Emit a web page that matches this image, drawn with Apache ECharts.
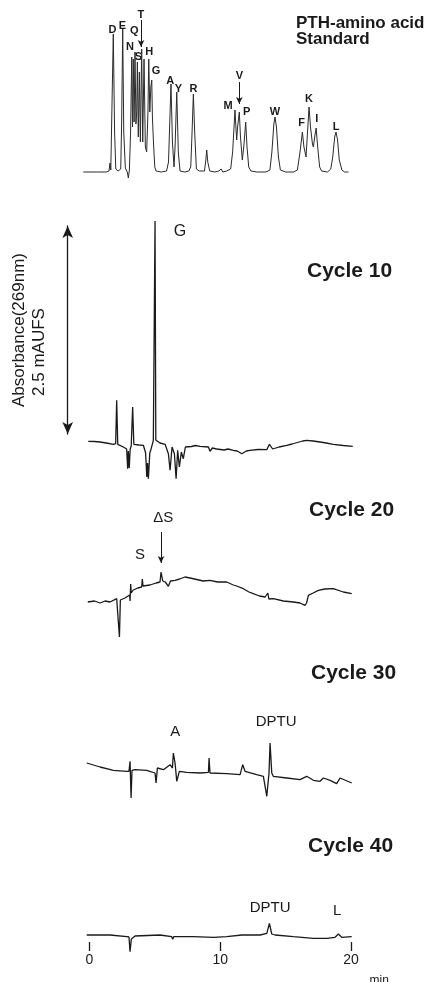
<!DOCTYPE html>
<html>
<head>
<meta charset="utf-8">
<script src="https://cdn.jsdelivr.net/npm/echarts@6/dist/echarts.min.js"></script>
<style>
  html, body { margin: 0; padding: 0; background: #fff; }
  #chart { width: 435px; height: 982px; }
</style>
</head>
<body>
<div id="chart"></div>
<script>
const INK = "#1a1a1a";
const FONT = '"Liberation Sans", Arial, Helvetica, sans-serif';

// retention time (min), relative absorbance
const standardTrace = [
  [-0.46, 0], [0.6, 0], [1.3, 0], [1.5, 1], [1.58, 9], [1.64, 2], [1.72, 4], [1.83, 138], [1.93, 40],
  [2.02, 3], [2.2, 1], [2.4, 3], [2.47, 50], [2.55, 143], [2.63, 40], [2.75, 4], [2.9, 0], [2.98, -6],
  [3.06, 2], [3.15, 40], [3.24, 115], [3.3, 45], [3.36, 113], [3.42, 50], [3.49, 120], [3.56, 48],
  [3.62, 60], [3.67, 110], [3.74, 35], [3.82, 100], [3.9, 30], [4.0, 123], [4.08, 30], [4.18, 113],
  [4.28, 25], [4.38, 20], [4.48, 60], [4.54, 113], [4.62, 60], [4.7, 85], [4.77, 92], [4.82, 55],
  [4.9, 30], [5.0, 5], [5.1, 1], [5.5, 0], [5.9, 1], [6.05, 10], [6.24, 88], [6.35, 30], [6.47, 5],
  [6.55, 25], [6.68, 80], [6.8, 20], [6.93, 1], [7.3, 0], [7.6, 1], [7.75, 5], [7.85, 40], [7.95, 78],
  [8.05, 40], [8.18, 3], [8.4, 1], [8.55, 0], [8.8, 1], [8.9, 12], [8.97, 22], [9.05, 10], [9.2, 1],
  [9.6, 0], [9.9, 1], [10.07, 3], [10.2, 0], [10.5, 1], [10.8, 3], [10.95, 20], [11.13, 62], [11.2, 45],
  [11.26, 32], [11.33, 45], [11.46, 60], [11.55, 35], [11.69, 12], [11.8, 25], [11.95, 50], [12.05, 25],
  [12.18, 5], [12.35, 1], [12.8, 0], [13.5, 0], [13.8, 2], [13.95, 20], [14.1, 48], [14.19, 55],
  [14.3, 45], [14.45, 15], [14.6, 2], [15.0, 0], [15.6, 0], [15.9, 2], [16.1, 20], [16.28, 40],
  [16.4, 25], [16.56, 15], [16.65, 35], [16.79, 65], [16.9, 45], [17.05, 28], [17.12, 25], [17.22, 35],
  [17.33, 44], [17.45, 25], [17.6, 5], [17.75, 1], [18.2, 0], [18.45, 3], [18.6, 15], [18.75, 35],
  [18.85, 40], [18.97, 32], [19.1, 12], [19.3, 2], [19.5, 0], [19.8, 0]
];

const cycle10Trace = [
  [-0.08, 1.7], [0.4, 1.5], [0.82, 1], [1.3, 0], [1.84, -1.3], [2.01, -0.7], [2.09, 42.7], [2.17, -1.3],
  [2.6, -4], [2.85, -6], [2.93, -25.7], [2.98, -8], [3.05, -25], [3.12, -6], [3.2, -3], [3.31, 36],
  [3.4, -1.3], [3.8, -2], [4.13, -2.3], [4.3, -10], [4.39, -34], [4.45, -20], [4.51, -35.7], [4.62, -10],
  [4.69, -7.3], [4.89, 2.7], [4.97, 3], [5.02, 222], [5.08, 3], [5.15, 2.7], [5.4, 0], [5.79, -1.3],
  [6.04, -10.7], [6.17, -27.3], [6.32, -4], [6.5, -10.7], [6.63, -35.7], [6.75, -7.3], [6.88, -24],
  [7.03, -9], [7.18, -15.7], [7.34, -4], [7.8, -3.5], [8.1, -2.5], [8.46, -3.3], [9.1, -4], [9.22, -8.3],
  [9.4, -5], [9.73, -6], [10.3, -7], [10.6, -6], [11.0, -7.3], [11.3, -8], [11.65, -10.7], [12.0, -8],
  [12.28, -7.3], [12.9, -6.5], [13.56, -6.7], [13.76, -1.3], [14.01, -6], [14.5, -4], [15.08, -2.3],
  [15.5, -1], [15.9, 0.5], [16.3, 2], [16.61, 2.7], [17.1, 2], [17.63, 1], [18.1, 0], [18.65, -1.3],
  [19.4, -2.5], [20.13, -3.3]
];

const cycle20Trace = [
  [-0.12, 0], [0.4, 1], [0.82, -1], [1.2, 1], [1.58, 0], [2.09, 3.3], [2.24, 2], [2.3, -35], [2.37, 2],
  [2.73, 4], [3.08, 7], [3.11, 1], [3.16, 18], [3.2, 9], [3.36, 12], [3.7, 14], [4.0, 15], [4.05, 23],
  [4.1, 16], [4.64, 17], [5.1, 19], [5.4, 20], [5.48, 30], [5.61, 21], [5.8, 20], [6.04, 15.7], [6.2, 21],
  [6.55, 21.7], [6.9, 23], [7.31, 25], [7.7, 24], [8.2, 22.5], [8.7, 21], [9.22, 21.7], [9.8, 20],
  [10.5, 20], [11.0, 17], [11.26, 16], [11.77, 13.3], [12.2, 10], [12.53, 8.3], [13.0, 6], [13.43, 5],
  [13.56, 5], [13.64, 9], [13.72, 3], [14.06, 3.3], [14.83, 1], [15.59, 0], [16.1, -1], [16.48, -3.3],
  [16.6, -1], [16.74, 6.7], [17.1, 9], [17.5, 11.7], [18.0, 13], [18.65, 13.3], [19.41, 10], [20.05, 8.3]
];

const cycle30Trace = [
  [-0.2, 0], [0.82, -4], [1.84, -7.3], [2.86, -8.3], [3.03, -8.3], [3.11, 1.7], [3.19, -35], [3.26, -7.3],
  [3.49, -6.7], [4.38, -7.3], [5.02, -10], [5.1, -20], [5.2, -5], [5.66, -6.7], [6.17, -1.7], [6.35, -5],
  [6.42, 10], [6.55, 0], [6.68, -18.3], [6.88, -8.3], [7.44, -9.3], [8.46, -10], [9.1, -9.3], [9.15, 5],
  [9.22, -10], [10.5, -10.7], [11.52, -11.7], [11.72, -1.7], [11.9, -8.3], [12.79, -11.7], [13.3, -13.3],
  [13.56, -33.3], [13.73, -10], [13.81, 20], [13.94, -10], [14.06, -13.3], [15.09, -15], [16.1, -16.7],
  [16.61, -13.3], [17.12, -17.3], [17.63, -18.3], [17.88, -15], [18.4, -17.3], [18.9, -20.7],
  [19.16, -15], [20.05, -20]
];

const cycle40Trace = [
  [-0.2, 0], [1.58, 0], [2.86, -1.7], [3.03, -2], [3.11, -16.7], [3.21, -4], [3.49, -1], [5.4, 0],
  [6.3, -1.7], [6.37, -4.3], [6.45, -1.7], [7.95, -1.7], [9.48, -2.3], [10.5, -1.7], [11.65, 0],
  [13.05, 0], [13.56, 1.7], [13.76, 11.7], [13.94, 1], [14.19, 0], [15.59, -1.7], [17.12, -3.3],
  [18.14, -3.3], [18.78, -2.3], [19.03, 1], [19.29, -2.3], [20.05, -1.7]
];

// peak labels: [text, time, height]
const standardPeaks = [
  ["D", 1.76, 142], ["E", 2.52, 146], ["Q", 3.44, 141], ["N", 3.11, 125], ["T", 3.93, 157],
  ["S", 3.75, 115], ["H", 4.58, 120], ["G", 5.1, 101], ["A", 6.19, 91], ["Y", 6.8, 83],
  ["R", 7.95, 83], ["M", 10.6, 66], ["V", 11.46, 96], ["P", 12.03, 60], ["W", 14.19, 60],
  ["F", 16.23, 49], ["K", 16.79, 73], ["I", 17.38, 53], ["L", 18.85, 45]
];
const cycle10Peaks = [["G", 6.93, 211]];
const cycle20Peaks = [["ΔS", 5.64, 84], ["S", 3.87, 47]];
const cycle30Peaks = [["A", 6.56, 31], ["DPTU", 14.27, 41]];
const cycle40Peaks = [["DPTU", 13.81, 27], ["L", 18.93, 24]];

// pointer arrows: [time, from, to]
const standardArrows = [[3.95, 152, 125], [11.46, 90, 68]];
const cycle20Arrows = [[5.48, 70, 39]];

const panelTitles = ["PTH-amino acid\nStandard", "Cycle 10", "Cycle 20", "Cycle 30", "Cycle 40"];
const xTicks = [0, 10, 20];

const panels = [
  { trace: standardTrace, peaks: standardPeaks, arrows: standardArrows, top: 10, height: 170, min: -8, max: 162,
    title: { left: 296, top: 15, size: 17, lh: 16 }, peakFont: { fontSize: 11, fontWeight: "bold" }, lw: 1, color: "#2b2b2b" },
  { trace: cycle10Trace, peaks: cycle10Peaks, arrows: [], top: 221, height: 259, min: -37, max: 222,
    title: { left: 307, top: 261, size: 21, lh: 21 }, peakFont: { fontSize: 16 }, lw: 1.3, color: INK },
  { trace: cycle20Trace, peaks: cycle20Peaks, arrows: cycle20Arrows, top: 505, height: 135, min: -38, max: 97,
    title: { left: 309, top: 500, size: 21, lh: 21 }, peakFont: { fontSize: 15 }, lw: 1.3, color: INK },
  { trace: cycle30Trace, peaks: cycle30Peaks, arrows: [], top: 715, height: 85, min: -37, max: 48,
    title: { left: 311, top: 663, size: 21, lh: 21 }, peakFont: { fontSize: 15 }, lw: 1.3, color: INK },
  { trace: cycle40Trace, peaks: cycle40Peaks, arrows: [], top: 895, height: 47, min: -7, max: 40,
    title: { left: 308, top: 836, size: 21, lh: 21 }, peakFont: { fontSize: 15 }, lw: 1.3, color: INK }
];

const GRID_LEFT = 82.8;
const GRID_WIDTH = 274.8;

const grid = panels.map((p) => ({
  left: GRID_LEFT, width: GRID_WIDTH, top: p.top, height: p.height, outerBoundsMode: "none"
}));
grid.push({ left: 67.7, width: 10, top: 226, height: 208, outerBoundsMode: "none" }); // scale bar

const xAxis = panels.map((p, i) => {
  const last = i === panels.length - 1;
  return {
    type: "value", gridIndex: i, min: -0.5, max: 20.5, show: last,
    axisLine: { show: false, onZero: false },
    axisTick: { show: last, customValues: xTicks, inside: false, length: 9, lineStyle: { color: INK, width: 1.3 } },
    axisLabel: { show: last, customValues: xTicks, margin: 11, color: INK, fontSize: 14, fontFamily: FONT },
    splitLine: { show: false },
    name: last ? "{m|min}" : "",
    nameLocation: "end",
    nameGap: 12,
    nameTextStyle: {
      color: INK, fontSize: 12, fontFamily: FONT, verticalAlign: "top",
      rich: { m: { fontSize: 12, fontFamily: FONT, color: INK, padding: [33, 0, 0, 0] } }
    }
  };
});
xAxis.push({ type: "value", gridIndex: 5, show: false });

const yAxis = panels.map((p, i) => ({
  type: "value", gridIndex: i, min: p.min, max: p.max, show: false
}));
yAxis.push({
  type: "value", gridIndex: 5, min: 0, max: 2.5, position: "left",
  axisLine: { show: true, symbol: ["arrow", "arrow"], symbolSize: [8, 12], lineStyle: { color: INK, width: 1.3 } },
  axisTick: { show: false }, axisLabel: { show: false }, splitLine: { show: false },
  name: "{a|Absorbance(269nm)}\n{b|2.5 mAUFS}",
  nameLocation: "middle", nameRotate: 90, nameGap: 18,
  nameTextStyle: {
    color: INK, fontFamily: FONT, fontSize: 17, lineHeight: 20,
    rich: { a: { fontSize: 17, fontFamily: FONT, color: INK }, b: { fontSize: 17, fontFamily: FONT, color: INK, padding: [0, 44, 0, 0] } }
  }
});

const series = [];
panels.forEach((p, i) => {
  series.push({
    type: "line", xAxisIndex: i, yAxisIndex: i, data: p.trace, clip: false,
    showSymbol: false, symbol: "none",
    lineStyle: { color: p.color, width: p.lw },
    markLine: p.arrows.length ? {
      silent: true, symbol: ["none", "arrow"], symbolSize: [5, 7],
      label: { show: false },
      lineStyle: { color: INK, width: 1, type: "solid" },
      data: p.arrows.map((a) => [{ coord: [a[0], a[1]] }, { coord: [a[0], a[2]] }])
    } : undefined
  });
  series.push({
    type: "scatter", xAxisIndex: i, yAxisIndex: i, symbolSize: 0, clip: false, silent: true,
    itemStyle: { opacity: 1 },
    data: p.peaks.map((k) => ({ name: k[0], value: [k[1], k[2]] })),
    label: { show: true, position: "inside", formatter: "{b}", color: INK, opacity: 1, fontFamily: FONT, ...p.peakFont }
  });
});

const title = panels.map((p, i) => ({
  text: panelTitles[i], left: p.title.left, top: p.title.top, padding: 0,
  textStyle: { color: INK, fontFamily: FONT, fontWeight: "bold", fontSize: p.title.size, lineHeight: p.title.lh }
}));

const chart = echarts.init(document.getElementById("chart"), null, { renderer: "canvas" });
chart.setOption({
  backgroundColor: "#fff",
  animation: false,
  title, grid, xAxis, yAxis, series
});
</script>
</body>
</html>
